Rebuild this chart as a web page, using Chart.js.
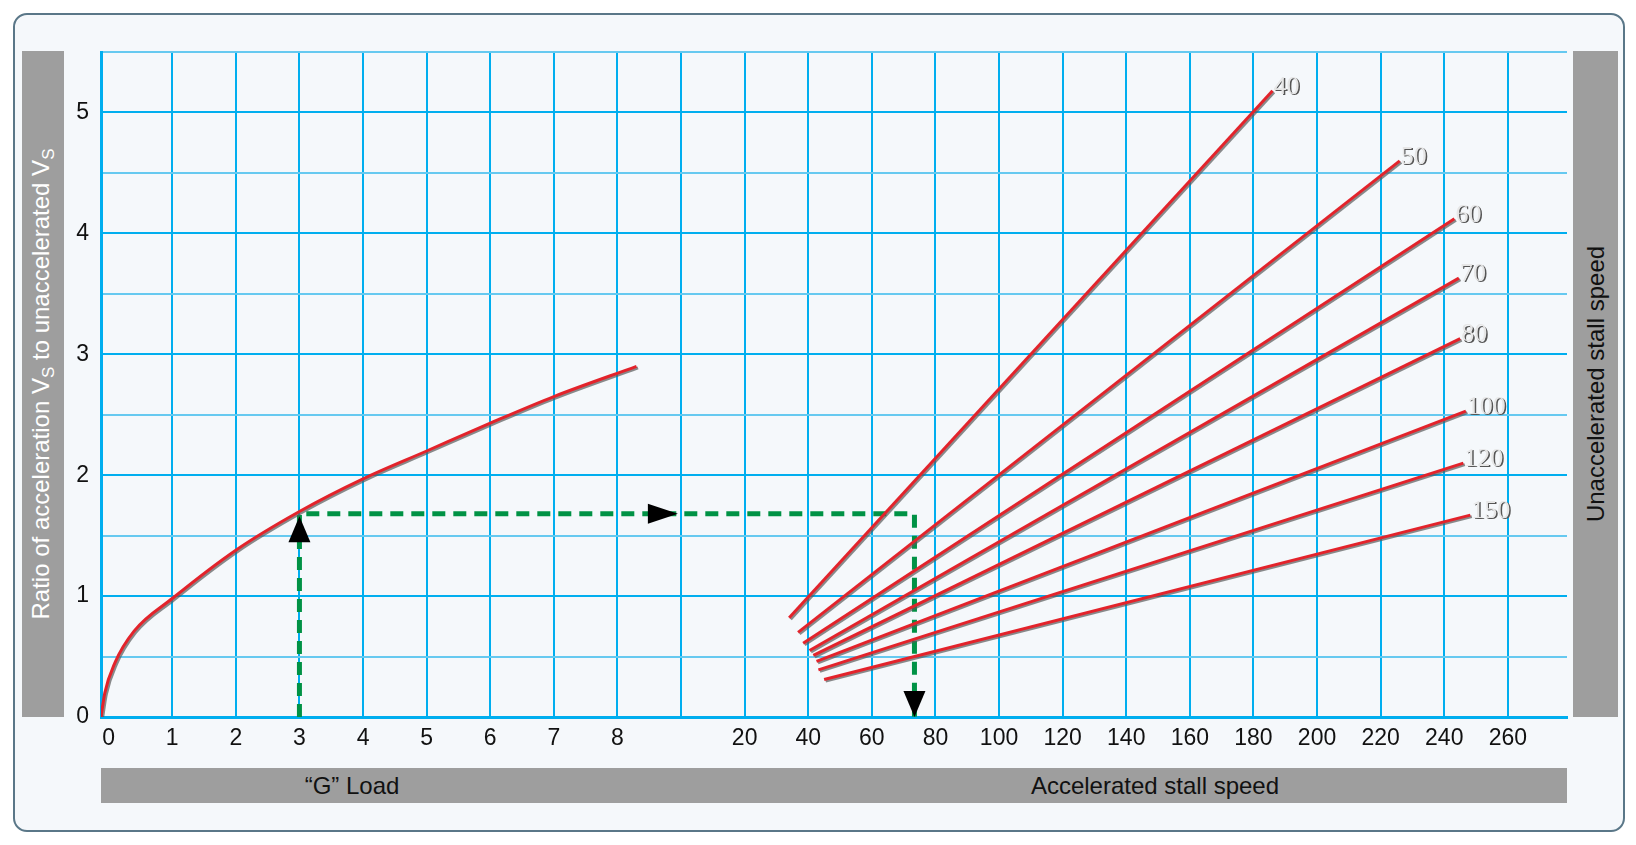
<!DOCTYPE html>
<html><head><meta charset="utf-8">
<script src="https://cdn.jsdelivr.net/npm/chart.js@4"></script>
<style>
body{margin:0;width:1636px;height:845px;background:#fff;font-family:"Liberation Sans",Arial,sans-serif;overflow:hidden;position:relative}
#box{position:absolute;left:13px;top:13px;width:1608px;height:815px;border:2px solid #5a7788;border-radius:14px;background:#f5f8fb}
#wrap{position:absolute;left:0;top:0;width:1636px;height:845px}
.bar{position:absolute;background:#9e9e9e}
.vt{position:absolute;white-space:nowrap;font-size:24px;transform-origin:center;}
</style></head><body>
<div id="box"></div>
<div class="bar" style="left:22px;top:51px;width:42px;height:666px"></div>
<div class="bar" style="left:1573px;top:51px;width:45px;height:666px"></div>
<div class="bar" style="left:101px;top:768px;width:1466px;height:35px"></div>
<div class="vt" style="left:43px;top:384px;transform:translate(-50%,-50%) rotate(-90deg);color:#fff">Ratio of acceleration V<sub style="font-size:17px">S</sub> to unaccelerated V<sub style="font-size:17px">S</sub></div>
<div class="vt" style="left:1596px;top:384px;transform:translate(-50%,-50%) rotate(-90deg);color:#111">Unaccelerated stall speed</div>
<div class="vt" style="left:352px;top:786px;transform:translate(-50%,-50%);color:#111">“G” Load</div>
<div class="vt" style="left:1155px;top:786px;transform:translate(-50%,-50%);color:#111">Accelerated stall speed</div>
<div id="wrap"><canvas id="c" width="1636" height="845"></canvas></div>
<script>
const xTickLabels = ['0','1','2','3','4','5','6','7','8','','20','40','60','80','100','120','140','160','180','200','220','240','260'];
const yTickLabels = ['0','1','2','3','4','5'];
const gCurveX = [-0.12,-0.06,0.1,0.4,1,2,3,4,5,6,7,8.3];
const gCurveY = [0,0.2,0.45,0.71,0.98,1.38,1.7,1.97,2.2,2.43,2.65,2.9];
const stallSpeeds = ['40','50','60','70','80','100','120','150'];
const lineStartX = [10.70,10.84,10.92,11.02,11.08,11.13,11.16,11.25];
const lineStartY = [0.82,0.70,0.61,0.55,0.51,0.46,0.39,0.31];
const lineEndX = [18.30,20.30,21.16,21.23,21.25,21.34,21.30,21.41];
const lineEndY = [5.18,4.60,4.12,3.63,3.13,2.53,2.10,1.67];
const guideX = [3,3,12.67,12.67];
const guideY = [0,1.68,1.68,0];

const RED='#e3232b';
const datasets=[];
datasets.push({data:gCurveX.map((x,i)=>({x,y:gCurveY[i]})),borderColor:RED,borderWidth:3,pointRadius:0,cubicInterpolationMode:'monotone',shadow:true});
stallSpeeds.forEach((s,i)=>datasets.push({label:s,data:[{x:lineStartX[i],y:lineStartY[i]},{x:lineEndX[i],y:lineEndY[i]}],borderColor:RED,borderWidth:3,pointRadius:0,shadow:true,tag:s}));
datasets.push({data:guideX.map((x,i)=>({x,y:guideY[i]})),borderColor:'#009245',borderWidth:5,borderDash:[13,8],pointRadius:0,tension:0});

const fx=v=>Math.abs(v-Math.round(v))<1e-6;
const plug={id:'p',
 beforeDatasetDraw(ch,a){const d=ch.data.datasets[a.index];if(d.shadow){const c=ch.ctx;c.save();c.shadowColor='rgba(90,90,90,0.7)';c.shadowOffsetX=1.5;c.shadowOffsetY=1.5;c.shadowBlur=0;}},
 afterDatasetDraw(ch,a){const d=ch.data.datasets[a.index];if(d.shadow)ch.ctx.restore();},
 afterDatasetsDraw(ch){const c=ch.ctx,xs=ch.scales.x,ys=ch.scales.y;
  c.save();
  c.font='26px "Liberation Serif",serif';c.textBaseline='bottom';
  ch.data.datasets.forEach(d=>{if(!d.tag)return;const p=d.data[1];const X=xs.getPixelForValue(p.x)+1,Y=ys.getPixelForValue(p.y)+9;
   c.fillStyle='#555';c.fillText(d.tag,X+1.5,Y+1.5);c.fillStyle='#e6e6e6';c.fillText(d.tag,X,Y);});
  c.fillStyle='#000';
  const tri=(x,y,dir)=>{const X=xs.getPixelForValue(x),Y=ys.getPixelForValue(y);c.beginPath();
   if(dir==='up'){c.moveTo(X,Y);c.lineTo(X-11,Y+26);c.lineTo(X+11,Y+26);}
   if(dir==='right'){c.moveTo(X,Y);c.lineTo(X-30,Y-10);c.lineTo(X-30,Y+10);}
   if(dir==='down'){c.moveTo(X,Y);c.lineTo(X-11,Y-26);c.lineTo(X+11,Y-26);}
   c.closePath();c.fill();};
  tri(3,1.66,'up');tri(8.95,1.68,'right');tri(12.67,0,'down');
  c.restore();}};

new Chart(document.getElementById('c'),{type:'line',data:{datasets},
 options:{responsive:false,animation:false,events:[],
  layout:{padding:{left:0,right:69,top:52,bottom:0}},
  plugins:{legend:{display:false},tooltip:{enabled:false}},
  scales:{
   x:{type:'linear',min:-0.12,max:22.93,
     afterBuildTicks:s=>{s.ticks=xTickLabels.map((l,i)=>({value:i}));},
     afterFit:s=>{s.height=128;},
     border:{color:'#00aeef',width:3},
     grid:{color:c=>c.tick&&c.tick.value===0?'rgba(0,0,0,0)':'#00aeef',lineWidth:2,drawTicks:false},
     ticks:{padding:8,color:'#111',font:{size:23,family:'"Liberation Sans",Arial'},maxRotation:0,autoSkip:false,callback:(v,i)=>xTickLabels[i]}},
   y:{type:'linear',min:0,max:5.5,
     afterBuildTicks:s=>{const t=[];for(let v=0;v<=5.5+1e-9;v+=0.5)t.push({value:v});s.ticks=t;},
     afterFit:s=>{s.width=101;},
     border:{color:'#00aeef',width:3},
     grid:{color:c=>fx(c.tick.value)?'#00aeef':'#66c9f0',lineWidth:2,drawTicks:false},
     ticks:{padding:12,color:'#111',font:{size:23,family:'"Liberation Sans",Arial'},autoSkip:false,callback:v=>fx(v)&&v<=5?String(Math.round(v)):''}}
  }},plugins:[plug]});
</script></body></html>
